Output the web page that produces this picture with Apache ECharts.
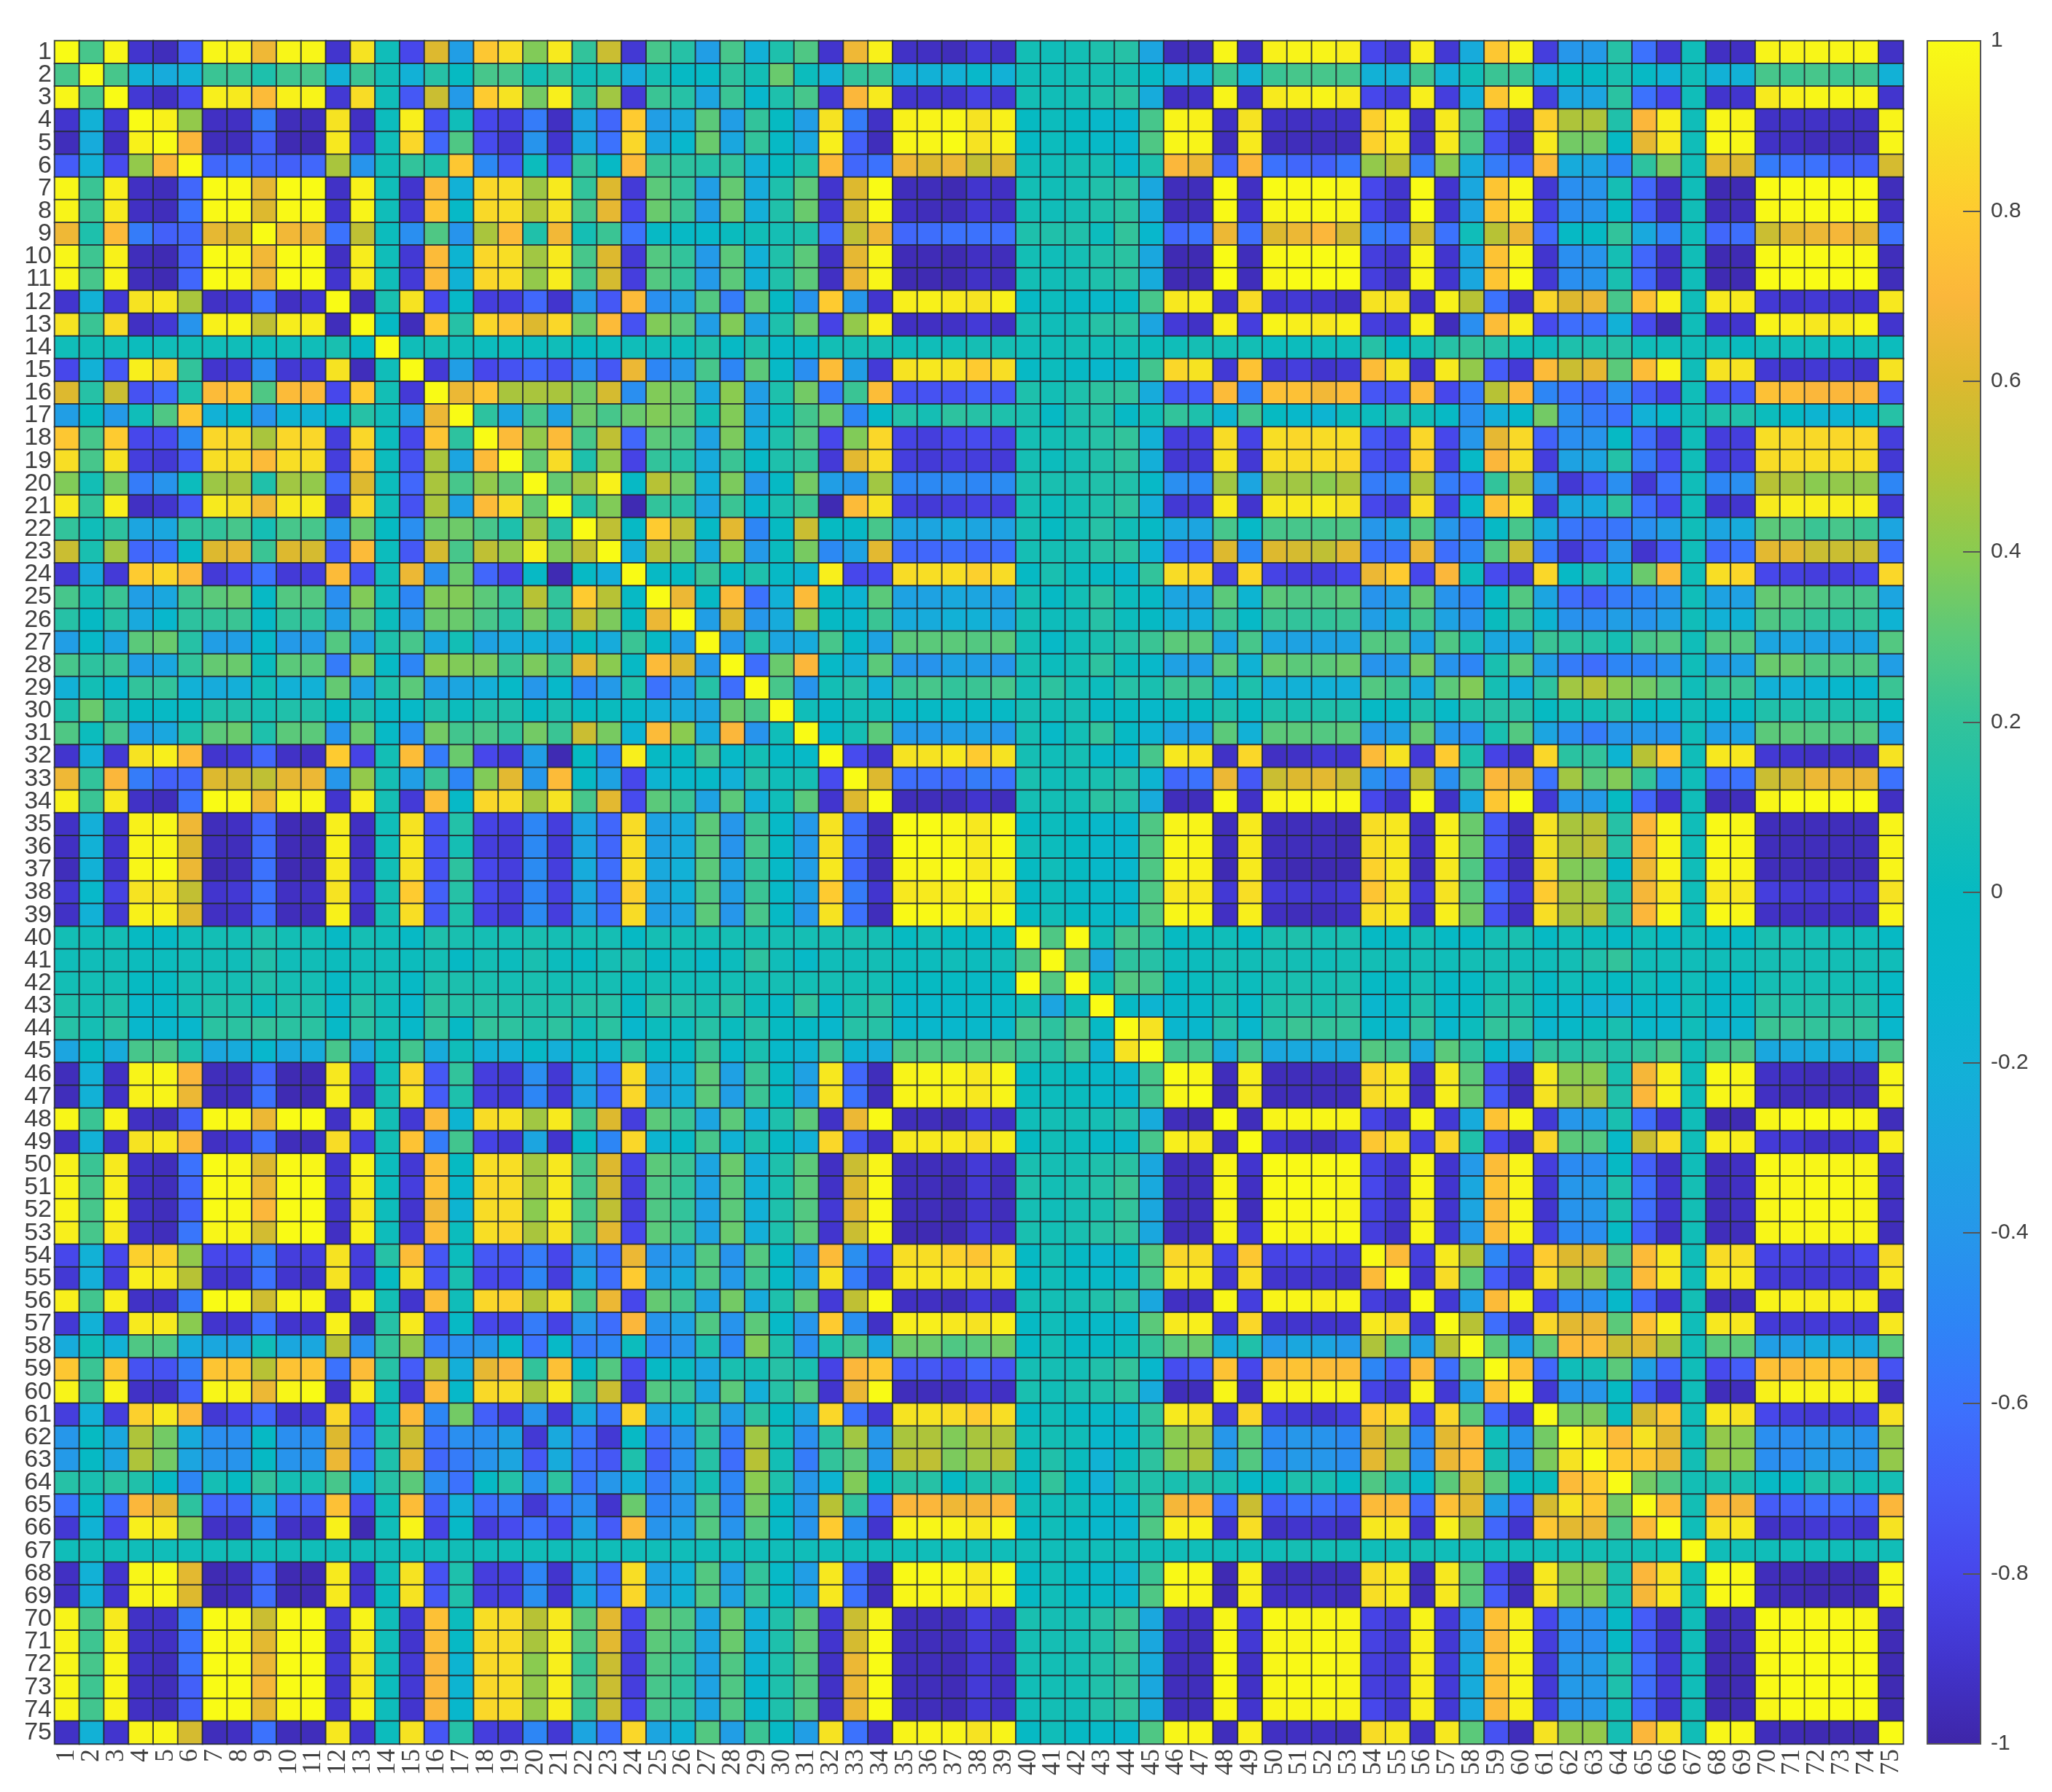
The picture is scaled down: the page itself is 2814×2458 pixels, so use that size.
<!DOCTYPE html>
<html>
<head>
<meta charset="utf-8">
<style>
html,body{margin:0;padding:0;background:#fff}
#chart{width:2814px;height:2458px}
</style>
<script src="https://cdn.jsdelivr.net/npm/echarts@6/dist/echarts.min.js"></script>
</head>
<body>
<div id="chart"></div>
<script>
// upper triangle of the correlation matrix, each row starts on the diagonal
const r1=[1,.25,.98,-.9,-.95,-.7,.98,.97,.66,.98,.98,-.9,.9,.05,-.8,.6,-.35,.78,.88,.38,.93,.2,.55,-.88,.25,.15,-.35,.25,-.2,.12,.27,-.9,.66,.96,-.92,-.93,-.95,-.88,-.92,.07,.05,.07,.12,.15,-.3,-.95,-.95,.98,-.93,.96,.97,.97,.95,-.8,-.88,.95,-.88,-.25,.78,.97,-.85,-.4,-.38,.15,-.6,-.88,.05,-.93,-.93,.97,.97,.98,.98,.98,-.92];
const r2=[1,.25,-.2,-.25,-.2,.22,.22,.12,.23,.25,-.2,.22,.06,-.2,.15,0,.25,.25,.07,.2,.05,.1,-.25,.08,-.02,-.05,.18,.07,.33,.03,-.2,.2,.22,-.22,-.2,-.2,-.08,-.2,.05,.05,.07,.08,.08,-.03,-.2,-.2,.22,-.2,.22,.25,.25,.25,-.2,-.22,.24,-.2,.05,.22,.22,-.2,0,-.02,.1,-.03,-.18,.05,-.2,-.2,.25,.23,.25,.23,.24,-.2];
const r3=[1,-.88,-.93,-.78,.95,.93,.72,.96,.97,-.88,.87,.05,-.72,.55,-.38,.8,.9,.35,.95,.18,.45,-.87,.22,.15,-.3,.22,-.1,.12,.25,-.88,.7,.93,-.9,-.9,-.9,-.83,-.88,.07,.06,.07,.12,.17,-.25,-.93,-.92,.97,-.92,.93,.95,.97,.93,-.8,-.85,.95,-.85,-.2,.78,.97,-.85,-.28,-.3,.17,-.6,-.8,.05,-.9,-.9,.93,.96,.98,.98,.97,-.9];
const r4=[1,.96,.42,-.93,-.93,-.55,-.95,-.95,.9,-.93,.03,.95,-.75,.05,-.8,-.85,-.55,-.93,-.3,-.65,.8,-.35,-.27,.3,-.35,.2,0,-.35,.9,-.55,-.92,.96,.97,.98,.9,.96,0,.03,0,-.08,-.1,.25,.97,.96,-.93,.9,-.92,-.93,-.92,-.92,.82,.95,-.92,.93,.27,-.75,-.92,.82,.48,.48,.13,.7,.95,.05,.98,.97,-.92,-.92,-.92,-.93,-.93,.97];
const r5=[1,.7,-.95,-.95,-.68,-.97,-.97,.92,-.88,.05,.85,-.65,.27,-.78,-.88,-.42,-.9,-.28,-.6,.85,-.28,-.1,.33,-.28,.2,-.03,-.28,.95,-.68,-.95,.98,.98,1,.9,.96,-.02,.03,0,-.05,-.1,.27,.98,.97,-.95,.93,-.95,-.95,-.95,-.95,.83,.93,-.92,.93,.27,-.75,-.93,.93,.35,.35,-.02,.63,.93,.05,.99,.98,-.92,-.93,-.95,-.95,-.95,.98];
const r6=[1,-.65,-.6,-.65,-.68,-.65,.47,-.42,.06,.2,.12,.78,-.48,-.72,.03,-.72,.2,-.03,.72,.22,.18,.15,.2,-.2,0,.12,.72,-.65,-.6,.66,.6,.65,.53,.6,.05,.05,.08,.08,-.1,.12,.7,.65,-.68,.7,-.6,-.65,-.68,-.58,.42,.5,-.55,.4,-.25,-.55,-.68,.72,-.25,-.3,-.5,.18,.37,.05,.62,.6,-.55,-.6,-.6,-.68,-.68,.58];
const r7=[1,.99,.63,1,1,-.92,.96,.05,-.9,.72,-.2,.85,.88,.44,.93,.2,.6,-.87,.3,.2,-.35,.32,-.25,.12,.3,-.9,.6,1,-.95,-.95,-.97,-.9,-.93,.07,.06,.08,.13,.17,-.28,-.95,-.95,.99,-.93,1,.99,1,.98,-.8,-.9,1,-.9,-.28,.77,.98,-.88,-.45,-.42,.08,-.65,-.92,.05,-.97,-.97,1,1,1,1,1,-.95];
const r8=[1,.6,.99,.99,-.9,.97,.05,-.88,.77,-.05,.86,.88,.47,.9,.25,.63,-.8,.33,.22,-.35,.33,-.22,.13,.33,-.88,.58,.99,-.93,-.95,-.95,-.88,-.92,.07,.05,.08,.12,.17,-.25,-.95,-.95,.99,-.9,.98,.99,.99,.98,-.8,-.9,1,-.9,-.3,.77,.97,-.82,-.45,-.42,0,-.65,-.92,.06,-.95,-.95,.99,.99,1,1,1,-.93];
const r9=[1,.67,.66,-.6,.52,.03,-.45,.27,-.42,.47,.72,.13,.67,.08,.22,-.6,-.03,-.03,-.07,.02,.06,.08,.12,-.65,.52,.66,-.65,-.62,-.6,-.6,-.62,.12,.13,.13,.03,.2,-.1,-.65,-.6,.65,-.62,.6,.65,.7,.57,-.55,-.6,.56,-.6,.05,.5,.65,-.65,-.02,-.02,.2,-.27,-.52,.05,-.65,-.62,.55,.62,.65,.68,.63,-.6];
const r10=[1,1,-.93,.94,.05,-.88,.72,-.15,.85,.88,.45,.93,.25,.6,-.87,.28,.2,-.38,.3,-.2,.13,.3,-.92,.63,.98,-.96,-.96,-.97,-.93,-.95,.07,.05,.08,.13,.17,-.28,-.97,-.97,1,-.95,.99,1,1,1,-.85,-.9,.98,-.9,-.28,.76,.98,-.9,-.45,-.42,.08,-.65,-.92,.06,-.97,-.97,.99,1,1,1,.99,-.95];
const r11=[1,-.9,.94,.05,-.87,.72,-.18,.85,.88,.42,.94,.25,.58,-.85,.28,.2,-.38,.3,-.2,.13,.3,-.93,.65,.98,-.97,-.97,-.97,-.92,-.95,.07,.06,.08,.12,.17,-.25,-.97,-.97,1,-.95,.98,1,1,1,-.85,-.92,.98,-.9,-.28,.77,1,-.88,-.45,-.42,.1,-.65,-.93,.05,-.97,-.97,1,1,1,1,1,-.95];
const r12=[1,-.95,.1,.9,-.8,-.05,-.85,-.85,-.65,-.9,-.4,-.72,.72,-.45,-.35,.28,-.55,.32,-.02,-.42,.8,-.4,-.9,.95,.96,.93,.9,.96,-.03,.03,-.03,-.08,-.05,.25,.92,.95,-.92,.87,-.9,-.88,-.9,-.93,.9,.9,-.92,.96,.5,-.6,-.92,.85,.6,.65,.25,.75,.96,.05,.93,.93,-.88,-.9,-.88,-.9,-.9,.92];
const r13=[1,-.02,-.95,.8,.15,.85,.78,.6,.85,.33,.72,-.75,.38,.3,-.35,.38,-.32,.12,.33,-.82,.42,.95,-.93,-.93,-.92,-.87,-.93,.08,.05,.07,.15,.17,-.3,-.87,-.92,.95,-.85,.97,.95,.92,.96,-.85,-.88,.96,-.95,-.45,.73,.94,-.78,-.62,-.6,-.2,-.78,-.97,.05,-.9,-.9,.97,.95,.92,.93,.97,-.9];
const r14=[1,.05,.07,.05,.03,.03,.03,.05,0,.03,.05,.05,.03,.12,-.03,.12,-.04,-.04,.07,.08,.08,.05,.05,.06,.08,.08,.05,.05,.07,.05,.07,.03,.05,.08,.07,.07,.03,.03,.04,.04,.15,0,.07,.15,.2,.15,.05,.05,.12,.12,.15,.05,.05,.05,.05,.02,.05,.05,.05,.03,.04,.03];
const r15=[1,-.87,-.35,-.8,-.75,-.65,-.75,-.45,-.72,.65,-.5,-.4,.25,-.5,.3,-.05,-.45,.73,-.35,-.87,.9,.92,.9,.8,.88,-.03,.03,-.03,-.1,-.07,.24,.85,.9,-.88,.76,-.88,-.85,-.9,-.88,.73,.9,-.9,.93,.42,-.7,-.87,.72,.55,.63,.3,.73,.97,.05,.9,.9,-.88,-.9,-.88,-.88,-.9,.9];
const r16=[1,.65,.77,.47,.47,.47,.34,.58,-.45,.38,.33,-.28,.4,-.35,.12,.35,-.55,.22,.73,-.75,-.75,-.75,-.68,-.72,.12,.07,.12,.18,.2,-.25,-.72,-.7,.72,-.55,.75,.75,.67,.73,-.73,-.75,.73,-.8,-.55,.5,.72,-.5,-.6,-.65,-.45,-.68,-.82,.05,-.75,-.72,.75,.73,.7,.7,.7,-.73];
const r17=[1,.18,-.3,.25,-.33,.34,.25,.33,.38,.33,.07,.38,-.3,.03,.24,.33,-.5,-.05,.14,.08,.18,.15,.12,.1,-.02,.11,.14,-.03,.05,.2,.12,-.15,.24,0,-.08,-.15,.03,.03,.1,.05,-.03,-.45,-.22,-.07,.35,-.45,-.55,-.6,-.2,-.05,.06,.12,.13,.03,-.03,-.15,-.15,-.1,.15];
const r18=[1,.72,.42,.72,.25,.52,-.65,.3,.25,-.32,.37,-.22,.12,.27,-.8,.38,.85,-.82,-.85,-.8,-.78,-.82,.08,.07,.1,.15,.2,-.2,-.85,-.85,.87,-.82,.88,.85,.87,.88,-.72,-.8,.85,-.8,-.4,.63,.86,-.68,-.45,-.42,-.02,-.62,-.85,.05,-.85,-.85,.88,.86,.86,.85,.85,-.85];
const r19=[1,.32,.87,.12,.42,-.82,.2,.15,-.25,.22,-.05,.12,.2,-.87,.62,.87,-.85,-.87,-.85,-.85,-.87,.08,.03,.08,.13,.18,-.22,-.88,-.88,.9,-.88,.88,.87,.87,.85,-.75,-.8,.82,-.82,-.05,.7,.88,-.85,-.32,-.3,.14,-.55,-.78,.05,-.85,-.85,.87,.87,.88,.88,.88,-.88];
const r20=[1,.32,.45,.96,-.03,.5,.35,-.2,.37,-.4,-.02,.35,-.35,-.4,.45,-.5,-.48,-.47,-.5,-.47,.1,.1,.1,.13,.13,-.05,-.45,-.5,.45,-.3,.45,.45,.4,.47,-.55,-.5,.48,-.55,-.6,.2,.47,-.42,-.88,-.72,-.45,-.88,-.6,.05,-.5,-.45,.5,.47,.4,.42,.42,-.5];
const r21=[1,.15,.38,-.97,.2,.17,-.3,.22,-.07,.1,.22,-.97,.72,.9,-.85,-.87,-.85,-.83,-.85,.08,.03,.07,.12,.18,-.22,-.88,-.88,.93,-.9,.92,.93,.94,.9,-.8,-.85,.88,-.82,-.05,.75,.93,-.87,-.27,-.25,.18,-.6,-.8,.05,-.9,-.9,.93,.95,.95,.95,.95,-.88];
const r22=[1,.52,-.03,.8,.52,-.03,.62,-.5,0,.55,0,-.03,.25,-.3,-.3,-.25,-.3,-.33,.08,0,.07,.15,.06,-.03,-.27,-.3,.25,-.05,.25,.25,.25,.27,-.4,-.3,.28,-.4,-.55,-.03,.25,-.25,-.58,-.62,-.58,-.45,-.33,.05,-.3,-.25,.3,.28,.22,.25,.22,-.3];
const r23=[1,-.22,.5,.37,-.25,.4,-.38,.02,.36,-.48,-.32,.62,-.65,-.65,-.62,-.65,-.62,.08,.08,.08,.15,.17,-.15,-.62,-.65,.6,-.5,.6,.58,.52,.62,-.62,-.62,.65,-.62,-.5,.28,.55,-.58,-.88,-.72,-.4,-.9,-.7,.05,-.65,-.6,.62,.62,.55,.55,.55,-.62];
const r24=[1,-.03,0,.22,-.03,.12,-.03,-.15,.95,-.8,-.78,.87,.88,.88,.82,.87,-.02,.1,.02,-.02,-.1,.2,.87,.85,-.85,.85,-.82,-.85,-.85,-.8,.65,.8,-.8,.7,.03,-.78,-.85,.85,-.03,.12,-.2,.33,.72,.05,.88,.85,-.8,-.83,-.85,-.85,-.8,.85];
const r25=[1,.65,-.03,.72,-.6,-.2,.72,-.02,-.15,.3,-.32,-.32,-.27,-.3,-.35,.08,-.02,.07,.18,.03,-.03,-.3,-.32,.3,-.15,.3,.27,.27,.3,-.42,-.35,.32,-.42,-.5,-.03,.28,-.3,-.62,-.68,-.55,-.5,-.42,.05,-.32,-.33,.32,.3,.27,.25,.25,-.3];
const r26=[1,-.35,.6,-.4,-.25,.4,-.02,-.08,.22,-.25,-.25,-.2,-.2,-.3,.07,.04,.05,.15,.03,-.02,-.2,-.22,.22,-.05,.22,.2,.2,.22,-.35,-.25,.24,-.32,-.42,.02,.22,-.15,-.43,-.45,-.35,-.42,-.33,.05,-.2,-.18,.27,.23,.2,.18,.2,-.17];
const r27=[1,-.4,.15,-.3,-.25,.25,-.05,-.32,.3,.3,.3,.28,.3,.07,-.05,.05,.1,.15,.22,.3,.3,-.3,.25,-.3,-.32,-.32,-.32,.28,.27,-.32,.27,.12,-.28,-.28,.22,.18,.15,.08,.25,.28,.05,.28,.28,-.3,-.3,-.32,-.32,-.3,.28];
const r28=[1,-.62,.33,.7,-.05,-.2,.3,-.4,-.42,-.32,-.35,-.4,.08,.03,.07,.18,.02,-.08,-.33,-.35,.3,-.18,.33,.3,.3,.33,-.42,-.38,.35,-.42,-.5,.1,.3,-.35,-.55,-.62,-.5,-.5,-.42,.05,-.35,-.32,.33,.33,.27,.27,.27,-.35];
const r29=[1,.25,-.42,.07,.15,-.2,.22,.25,.2,.22,.25,.08,.18,.08,.03,.15,.1,.22,.22,-.2,.12,-.22,-.2,-.2,-.22,.28,.23,-.25,.3,.38,.08,-.22,.18,.45,.5,.4,.35,.28,.05,.2,.22,-.2,-.2,-.15,-.1,-.1,.22];
const r30=[1,.05,-.02,.05,.05,-.05,-.03,-.05,-.05,-.03,.08,.05,.08,-.03,0,-.07,-.03,0,.12,-.03,.12,.1,.12,.12,-.03,-.04,.12,-.05,.12,.15,.15,0,.07,.07,.12,-.02,-.05,.05,-.05,-.03,.13,.12,.12,.12,.12,-.03];
const r31=[1,-.05,.08,.3,-.38,-.38,-.35,-.32,-.4,.08,-.05,.07,.2,-.02,-.15,-.33,-.35,.3,-.2,.3,.3,.28,.3,-.4,-.35,.32,-.4,-.45,.1,.28,-.3,-.45,-.55,-.4,-.4,-.42,.05,-.35,-.32,.3,.3,.28,.27,.28,-.35];
const r32=[1,-.78,-.9,.9,.9,.92,.8,.9,.08,.05,.08,-.05,-.1,.25,.92,.9,-.92,.85,-.93,-.92,-.88,-.9,.72,.9,-.87,.8,.12,-.82,-.9,.85,.17,.2,-.15,.5,.8,.05,.92,.92,-.88,-.9,-.92,-.92,-.92,.9];
const r33=[1,.6,-.62,-.62,-.65,-.55,-.6,.1,.05,.07,.1,.15,-.15,-.65,-.6,.65,-.72,.55,.6,.62,.55,-.45,-.55,.52,-.45,.25,.7,.65,-.6,.45,.3,.38,.2,-.45,.05,-.62,-.6,.55,.58,.65,.65,.65,-.6];
const r34=[1,-.95,-.95,-.95,-.9,-.95,.08,.07,.07,.17,.15,-.25,-.95,-.95,.99,-.92,.97,.99,.99,.99,-.8,-.9,.99,-.92,-.28,.78,1,-.88,-.4,-.38,0,-.65,-.9,.05,-.95,-.95,.98,1,1,1,1,-.93];
const r35=[1,1,.98,.92,.99,0,.03,0,-.08,-.1,.27,.97,.97,-.95,.93,-.95,-.95,-.95,-.97,.88,.92,-.93,.95,.33,-.72,-.95,.9,.47,.5,.15,.7,.97,.05,.99,.98,-.95,-.95,-.95,-.95,-.95,.97];
const r36=[1,.98,.93,.99,.05,.03,0,-.08,-.1,.28,.98,.97,-.95,.93,-.95,-.95,-.95,-.97,.88,.92,-.93,.95,.33,-.72,-.95,.9,.48,.52,.15,.7,.98,.05,.99,.98,-.95,-.95,-.95,-.95,-.95,.97];
const r37=[1,.93,.98,0,.05,0,-.07,-.1,.27,.97,.96,-.97,.93,-.95,-.97,-.97,-.97,.83,.92,-.95,.92,.27,-.78,-.95,.87,.38,.37,-.02,.66,.97,.05,.98,.97,-.95,-.95,-.96,-.96,-.96,.97];
const r38=[1,.93,-.02,.03,-.03,-.05,-.08,.27,.92,.92,-.88,.88,-.87,-.88,-.9,-.88,.77,.9,-.87,.9,.3,-.65,-.87,.8,.47,.45,.12,.68,.92,.05,.92,.92,-.85,-.87,-.88,-.87,-.88,.9];
const r39=[1,0,.05,0,-.05,-.08,.28,.98,.97,-.93,.95,-.93,-.95,-.95,-.93,.88,.92,-.92,.95,.35,-.75,-.93,.88,.48,.5,.17,.7,.98,.05,.99,.98,-.92,-.93,-.93,-.93,-.93,.97];
const r40=[1,.27,1,.05,.25,.2,0,.02,.05,0,.1,.12,.08,.1,-.02,-.02,.07,-.02,-.02,.08,.1,-.02,.05,.02,-.02,.05,-.02,.05,-.02,-.02,.1,.08,.08,.06,.05,-.02];
const r41=[1,.28,-.3,.18,.15,.03,.03,.07,.06,.08,.07,.05,.07,.07,.05,.07,.05,.07,.08,.06,.05,.07,.13,.2,.05,.05,.05,.05,.05,.08,.08,.07,.07,.07,.05];
const r42=[1,.04,.28,.25,0,.02,.07,.03,.08,.1,.08,.1,-.02,-.02,.08,-.02,-.02,.07,.1,-.02,.05,.02,0,.05,-.02,.05,-.02,-.02,.08,.08,.08,.07,.06,-.02];
const r43=[1,-.03,-.15,-.06,-.05,.08,-.05,.12,.14,.1,.15,-.12,-.04,.13,-.05,-.02,.13,.12,-.05,-.1,-.18,-.2,-.06,-.1,.05,-.06,-.03,.15,.13,.13,.13,.13,-.05];
const r44=[1,.9,-.12,-.1,.15,-.1,.16,.22,.2,.2,-.06,-.12,.2,-.1,.03,.2,.17,-.12,-.06,.02,.1,-.08,-.12,.05,-.15,-.12,.22,.22,.2,.2,.2,-.1];
const r45=[1,.25,.25,-.25,.25,-.28,-.27,-.28,-.28,.28,.25,-.28,.3,.2,-.1,-.25,.2,.15,.18,.13,.2,.27,.05,.22,.27,-.28,-.28,-.25,-.28,-.25,.27];
const r46=[1,.98,-.95,.95,-.95,-.95,-.95,-.95,.85,.92,-.93,.93,.3,-.77,-.95,.93,.4,.4,.1,.68,.95,.05,.99,.98,-.92,-.93,-.95,-.95,-.95,.98];
const r47=[1,-.97,.93,-.95,-.95,-.95,-.95,.87,.93,-.93,.95,.33,-.72,-.95,.9,.45,.47,.13,.7,.96,.05,.98,.97,-.93,-.95,-.95,-.95,-.95,.97];
const r48=[1,-.95,.97,.98,.98,.97,-.82,-.9,.98,-.88,-.25,.76,.98,-.88,-.4,-.35,.1,-.62,-.9,.05,-.97,-.97,.98,.99,1,.99,.98,-.95];
const r49=[1,-.9,-.93,-.95,-.88,.78,.88,-.85,.85,.13,-.8,-.93,.85,.3,.28,-.05,.55,.88,.05,.95,.95,-.87,-.88,-.92,-.92,-.9,.95];
const r50=[1,.99,.99,.99,-.82,-.9,.97,-.9,-.38,.73,.97,-.85,-.47,-.45,-.02,-.68,-.92,.05,-.95,-.93,.99,.98,.98,.98,.97,-.93];
const r51=[1,.99,.98,-.8,-.9,.98,-.9,-.28,.76,.97,-.88,-.4,-.38,.12,-.6,-.9,.08,-.95,-.93,.98,.98,.99,.99,.98,-.93];
const r52=[1,.98,-.82,-.9,.95,-.9,-.3,.73,.98,-.9,-.42,-.4,.1,-.62,-.9,.07,-.95,-.93,.98,.99,.99,.99,.98,-.93];
const r53=[1,-.85,-.92,.98,-.9,-.38,.73,.97,-.85,-.47,-.45,0,-.68,-.93,.06,-.95,-.95,.98,.98,.98,.98,.97,-.95];
const r54=[1,.72,-.85,.93,.48,-.5,-.82,.8,.6,.62,.27,.72,.92,.05,.87,.88,-.82,-.83,-.85,-.85,-.8,.87];
const r55=[1,-.9,.87,.3,-.7,-.88,.88,.47,.45,.15,.72,.92,.05,.92,.93,-.87,-.88,-.88,-.87,-.88,.92];
const r56=[1,-.88,-.35,.72,.97,-.82,-.48,-.45,-.07,-.65,-.9,.07,-.95,-.95,.97,.96,.95,.95,.95,-.92];
const r57=[1,.5,-.62,-.88,.85,.62,.65,.3,.75,.95,.05,.92,.92,-.87,-.88,-.87,-.87,-.88,.92];
const r58=[1,.3,-.35,.3,.72,.72,.55,.62,.47,.05,.3,.3,-.35,-.33,-.25,-.25,-.27,.3];
const r59=[1,.76,-.65,.05,.08,.3,-.33,-.65,.05,-.78,-.7,.75,.72,.76,.75,.72,-.75];
const r60=[1,-.88,-.42,-.4,0,-.65,-.9,.05,-.95,-.95,.96,.98,.97,.97,.96,-.95];
const r61=[1,.35,.37,.02,.58,.78,.05,.92,.9,-.8,-.85,-.87,-.87,-.85,.9];
const r62=[1,.9,.72,.9,.62,.05,.42,.4,-.45,-.45,-.4,-.38,-.42,.42];
const r63=[1,.8,.78,.65,.07,.42,.4,-.45,-.45,-.38,-.38,-.4,.42];
const r64=[1,.35,.27,.07,.1,.1,-.03,-.02,.12,.12,.06,.08];
const r65=[1,.72,.07,.7,.68,-.7,-.68,-.62,-.62,-.65,.7];
const r66=[1,.05,.9,.92,-.92,-.9,-.88,-.87,-.9,.9];
const r67=[1,.05,.06,.05,.05,.05,.05,.06,.06];
const r68=[1,.99,-.95,-.96,-.97,-.97,-.97,.98];
const r69=[1,-.95,-.96,-.97,-.97,-.97,.98];
const r70=[1,.99,.99,.99,.98,-.95];
const r71=[1,1,1,1,-.96];
const r72=[1,1,1,-.97];
const r73=[1,1,-.97];
const r74=[1,-.97];
const r75=[1];

const upperRows=[r1,r2,r3,r4,r5,r6,r7,r8,r9,r10,r11,r12,r13,r14,r15,r16,r17,r18,r19,r20,r21,r22,r23,r24,r25,r26,r27,r28,r29,r30,r31,r32,r33,r34,r35,r36,r37,r38,r39,r40,r41,r42,r43,r44,r45,r46,r47,r48,r49,r50,r51,r52,r53,r54,r55,r56,r57,r58,r59,r60,r61,r62,r63,r64,r65,r66,r67,r68,r69,r70,r71,r72,r73,r74,r75];
const labels=upperRows.map((r,i)=>String(i+1));
const parula=['#3E26A8','#4235CE','#4747EB','#455CF8','#3C72FD','#2D86F5','#2697EA','#1CA5E0','#12B1D6','#08B7CC','#06BAC2','#19BFB0','#32C39B','#5BC97A','#8ACB50','#B7C235','#DDB92F','#FBB73B','#FECB30','#F6E322','#F9FB15'];

const cells=[];
upperRows.forEach((r,i)=>{
  r.forEach((v,k)=>{
    const j=i+k;
    cells.push([j,i,v]);
    if(j!==i) cells.push([i,j,v]);
  });
});

const textColor='#404040';
const chart=echarts.init(document.getElementById('chart'));
chart.setOption({
  animation:false,
  backgroundColor:'#fff',
  grid:[
    {left:75,top:56,width:2535,height:2336,show:true,borderColor:'#777',borderWidth:1,backgroundColor:'transparent'},
    {left:2643,top:56,width:73,height:2336,show:true,borderColor:'#555',borderWidth:2,backgroundColor:'transparent',z:6}
  ],
  xAxis:[
    {type:'category',gridIndex:0,data:labels,
      axisLine:{show:false},axisTick:{show:false},splitLine:{show:false},
      axisLabel:{interval:0,rotate:90,margin:7,fontFamily:'Liberation Sans Narrow',fontSize:36,color:textColor}},
    {type:'value',gridIndex:1,min:0,max:1,show:false}
  ],
  yAxis:[
    {type:'category',gridIndex:0,data:labels,inverse:true,
      axisLine:{show:false},axisTick:{show:false},splitLine:{show:false},
      axisLabel:{interval:0,margin:4,fontFamily:'Liberation Sans',fontSize:34,color:textColor}},
    {type:'value',gridIndex:1,position:'right',min:-1,max:1,interval:0.2,z:6,
      axisLine:{show:false,onZero:false},splitLine:{show:false},
      axisTick:{show:true,inside:true,length:24,lineStyle:{color:'#555',width:2}},
      axisLabel:{margin:14,fontFamily:'Liberation Sans',fontSize:30,color:textColor}}
  ],
  visualMap:{
    type:'continuous',min:-1,max:1,seriesIndex:0,dimension:2,
    left:2643,top:56,itemWidth:73,itemHeight:2336,padding:0,
    calculable:false,realtime:false,hoverLink:false,
    inRange:{color:parula}
  },
  series:[{
    type:'heatmap',xAxisIndex:0,yAxisIndex:0,data:cells,
    itemStyle:{borderColor:'rgba(35,42,50,0.85)',borderWidth:2},
    emphasis:{disabled:true}
  }]
});
</script>
</body>
</html>
